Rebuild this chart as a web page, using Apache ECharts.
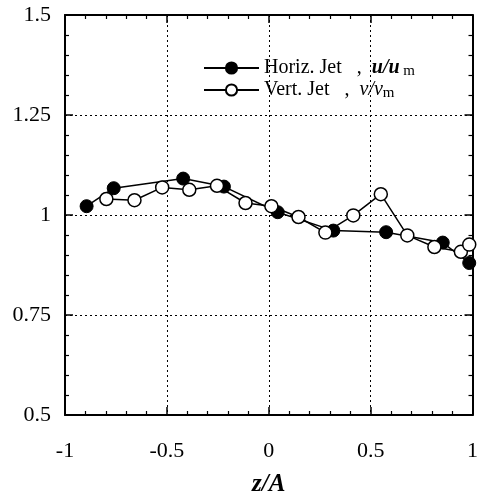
<!DOCTYPE html>
<html>
<head>
<meta charset="utf-8">
<script src="https://cdn.jsdelivr.net/npm/echarts@6/dist/echarts.min.js"></script>
<style>html,body{margin:0;padding:0;background:#fff}#c{width:481px;height:502px}</style>
</head>
<body>
<div id="c"></div>
<script>
var horizX = [-0.894, -0.761, -0.42, -0.22, 0.044, 0.317, 0.576, 0.854, 0.984];
var horizY = [1.022, 1.067, 1.091, 1.071, 1.007, 0.961, 0.957, 0.931, 0.880];
var vertX = [-0.797, -0.659, -0.523, -0.39, -0.254, -0.114, 0.013, 0.146, 0.278, 0.415, 0.55, 0.68, 0.813, 0.943, 0.984];
var vertY = [1.040, 1.037, 1.069, 1.063, 1.073, 1.030, 1.022, 0.995, 0.956, 0.999, 1.052, 0.949, 0.920, 0.908, 0.926];
var xTicks = [-1, -0.5, 0, 0.5, 1];
var yTicks = [0.5, 0.75, 1, 1.25, 1.5];

function pairs(xs, ys){ return xs.map(function(x,i){ return [x, ys[i]]; }); }

var FONT = 'Liberation Serif';
var chart = echarts.init(document.getElementById('c'), null, {renderer:'canvas'});
function mkAxis(pos, isX, showLabels) {
  return {
    type:'value', position: pos,
    min: isX ? xTicks[0] : yTicks[0],
    max: isX ? xTicks[xTicks.length-1] : yTicks[yTicks.length-1],
    interval: isX ? 0.5 : 0.25,
    axisLine:{show:true, onZero:false, lineStyle:{color:'#000', width:2}},
    axisTick:{show:true, inside:true, length:8, lineStyle:{color:'#000', width:1.5}},
    minorTick:{show:true, splitNumber:5, length:4, lineStyle:{color:'#000', width:1.2}},
    axisLabel:{show:showLabels, color:'#000', fontFamily:FONT, fontSize:22, margin: isX ? 25 : 14},
    splitLine:{show:showLabels, lineStyle:{color:'#000', width:1, type:[2,3]}}
  };
}
var xBottom = mkAxis('bottom', true, true);
xBottom.name = 'z/A';
xBottom.nameLocation = 'middle';
xBottom.nameGap = 57;
xBottom.nameTextStyle = {fontFamily:FONT, fontSize:25, fontWeight:'bold', fontStyle:'italic', color:'#000'};
var xTop = mkAxis('top', true, false);
var yLeft = mkAxis('left', false, true);
var yRight = mkAxis('right', false, false);

chart.setOption({
  animation:false,
  backgroundColor:'#fff',
  grid:{left:65, right:6, top:15, bottom:79},
  xAxis:[xBottom, xTop],
  yAxis:[yLeft, yRight],
  legend:{
    left:198, top:52, orient:'vertical', itemGap:0,
    itemWidth:55, itemHeight:14,
    data:['Horiz','Vert'],
    textStyle:{fontFamily:FONT, fontSize:20, color:'#000', lineHeight:22,
      rich:{
        b:{fontFamily:FONT, fontSize:20, fontWeight:'bold', fontStyle:'italic', color:'#000', lineHeight:22},
        i:{fontFamily:FONT, fontSize:20, fontStyle:'italic', color:'#000', lineHeight:22},
        s:{fontFamily:FONT, fontSize:15, color:'#000', lineHeight:22, verticalAlign:'bottom', padding:[6,0,0,0]},
        t:{fontFamily:FONT, fontSize:20, color:'#000', lineHeight:22}
      }},
    formatter:function(n){
      if(n==='Horiz') return '{t|Horiz. Jet   ,  }{b|u/u}{s| m}';
      return '{t|Vert. Jet   ,  }{i|v/v}{s|m}';
    }
  },
  series:[
    {name:'Horiz', type:'line', xAxisIndex:0, yAxisIndex:0, data:pairs(horizX,horizY),
     symbol:'circle', symbolSize:13, lineStyle:{color:'#000', width:1.5},
     itemStyle:{color:'#000', borderColor:'#000', borderWidth:1}, z:2},
    {name:'Vert', type:'line', xAxisIndex:0, yAxisIndex:0, data:pairs(vertX,vertY),
     symbol:'circle', symbolSize:13, lineStyle:{color:'#000', width:1.5},
     itemStyle:{color:'#fff', borderColor:'#000', borderWidth:1.5}, z:3}
  ]
});
</script>
</body>
</html>
